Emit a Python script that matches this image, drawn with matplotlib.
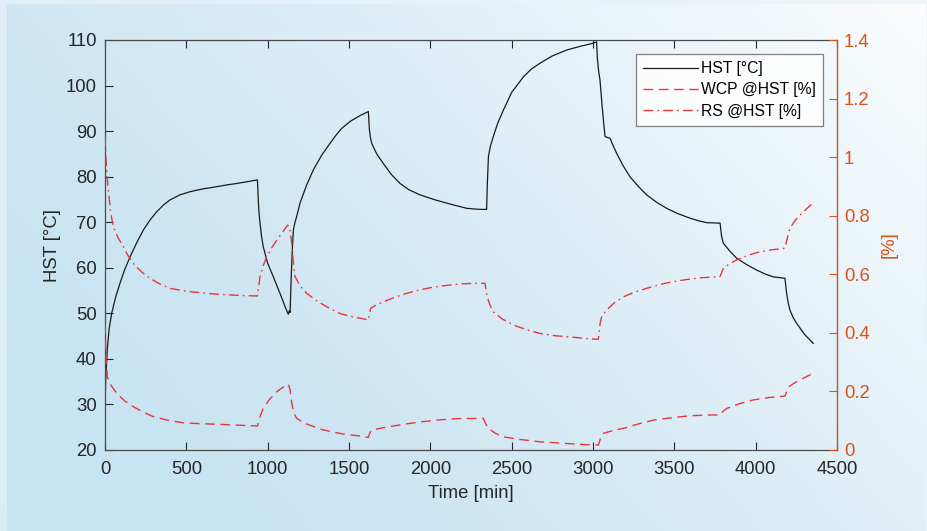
import numpy as np
import matplotlib
matplotlib.use("Agg")
import matplotlib.pyplot as plt

plt.rcParams['font.family'] = ['Liberation Sans', 'DejaVu Sans']

# ---- data ----
t_hst = [0, 5, 14, 25, 41, 65, 92, 120, 154, 195, 236, 277, 318, 360, 400, 460, 523, 600,
         687, 750, 810, 875, 937, 940, 943, 947, 953, 962, 973, 1000, 1035, 1080, 1110,
         1127, 1133, 1138, 1142, 1148, 1153, 1158, 1168, 1178, 1199, 1240, 1281, 1330,
         1383, 1420, 1455, 1510, 1568, 1619, 1625, 1632, 1640, 1670, 1711, 1760, 1814,
         1870, 1937, 2030, 2121, 2224, 2290, 2346, 2350, 2357, 2370, 2387, 2415, 2449,
         2500, 2572, 2620, 2674, 2750, 2838, 2920, 3002, 3022, 3027, 3035, 3043, 3055,
         3065, 3074, 3090, 3105, 3125, 3146, 3185, 3227, 3280, 3330, 3390, 3453, 3520,
         3596, 3650, 3699, 3781, 3790, 3801, 3840, 3883, 3945, 4006, 4060, 4109, 4180,
         4190, 4200, 4211, 4230, 4252, 4300, 4354]
hst = [30, 36, 42, 46.5, 50, 53.5, 56.6, 59.5, 62.4, 65.5, 68.3, 70.5, 72.3, 73.8, 74.9,
       76.0, 76.7, 77.3, 77.8, 78.2, 78.5, 78.9, 79.3, 77.0, 74.2, 72.0, 69.8, 67.0, 64.6,
       61.0, 58.0, 54.0, 51.2, 49.8, 50.6, 50.2, 55.0, 61.0, 65.0, 68.3, 70.0, 71.2, 74.2,
       78.2, 81.5, 84.6, 87.3, 89.1, 90.6, 92.2, 93.4, 94.3, 90.5, 88.5, 87.3, 85.0, 82.9,
       80.5, 78.5, 77.1, 76.0, 74.9, 74.0, 73.05, 72.85, 72.8, 78.0, 84.4, 86.8, 88.8,
       91.8, 94.6, 98.5, 101.9, 103.6, 104.9, 106.5, 107.8, 108.6, 109.3, 109.6, 106.0,
       103.0, 101.2, 96.0, 92.0, 88.8, 88.6, 88.4, 86.7, 85.1, 82.4, 80.0, 77.8, 76.0,
       74.4, 73.05, 71.9, 70.9, 70.3, 69.9, 69.8, 67.0, 65.4, 63.7, 62.1, 60.7, 59.5,
       58.6, 58.0, 57.7, 54.5, 52.3, 50.7, 49.1, 47.8, 45.4, 43.4]

t_wcp = [0, 6, 14, 40, 72, 120, 174, 235, 297, 390, 481, 580, 687, 810, 937, 950, 973,
         1010, 1056, 1090, 1127, 1138, 1148, 1160, 1178, 1225, 1281, 1340, 1404, 1480,
         1568, 1619, 1628, 1640, 1690, 1752, 1850, 1957, 2060, 2162, 2326, 2340, 2357,
         2400, 2449, 2550, 2674, 2840, 3002, 3033, 3048, 3064, 3120, 3187, 3280, 3371,
         3480, 3596, 3690, 3781, 3800, 3822, 3900, 3986, 4080, 4180, 4201, 4235, 4273,
         4310, 4354]
wcp = [0.43, 0.32, 0.250, 0.218, 0.194, 0.168, 0.148, 0.129, 0.114, 0.101, 0.093, 0.090,
       0.088, 0.085, 0.082, 0.110, 0.142, 0.172, 0.199, 0.213, 0.225, 0.205, 0.160, 0.128,
       0.108, 0.092, 0.080, 0.069, 0.061, 0.053, 0.048, 0.043, 0.058, 0.068, 0.074, 0.080,
       0.089, 0.097, 0.103, 0.107, 0.108, 0.090, 0.074, 0.057, 0.045, 0.036, 0.028, 0.022,
       0.017, 0.017, 0.042, 0.057, 0.066, 0.074, 0.089, 0.102, 0.110, 0.117, 0.119, 0.120,
       0.132, 0.142, 0.158, 0.171, 0.179, 0.184, 0.214, 0.228, 0.239, 0.250, 0.262]

t_rs = [0, 8, 20, 35, 51, 80, 113, 140, 174, 225, 277, 340, 400, 490, 584, 690, 789, 860,
        937, 953, 970, 994, 1025, 1056, 1090, 1123, 1135, 1148, 1158, 1168, 1200, 1240,
        1300, 1363, 1445, 1510, 1568, 1619, 1633, 1670, 1711, 1780, 1855, 1935, 2018,
        2100, 2182, 2260, 2336, 2343, 2350, 2365, 2387, 2440, 2510, 2590, 2674, 2770,
        2879, 2950, 3023, 3033, 3043, 3053, 3084, 3130, 3187, 3255, 3330, 3410, 3494,
        3575, 3658, 3720, 3781, 3801, 3840, 3883, 3945, 4006, 4090, 4180, 4195, 4211,
        4240, 4273, 4310, 4354]
rs = [1.07, 0.97, 0.888, 0.81, 0.762, 0.725, 0.694, 0.665, 0.637, 0.608, 0.586, 0.566,
      0.552, 0.543, 0.537, 0.532, 0.529, 0.527, 0.526, 0.592, 0.625, 0.660, 0.690, 0.717,
      0.743, 0.768, 0.760, 0.706, 0.640, 0.592, 0.560, 0.535, 0.510, 0.489, 0.466, 0.456,
      0.450, 0.444, 0.484, 0.496, 0.506, 0.521, 0.535, 0.547, 0.556, 0.562, 0.567, 0.569,
      0.569, 0.545, 0.523, 0.497, 0.472, 0.448, 0.427, 0.411, 0.398, 0.390, 0.385, 0.381,
      0.378, 0.378, 0.430, 0.455, 0.478, 0.502, 0.523, 0.539, 0.552, 0.565, 0.575, 0.582,
      0.588, 0.590, 0.592, 0.620, 0.636, 0.649, 0.663, 0.674, 0.683, 0.689, 0.725, 0.757,
      0.782, 0.802, 0.822, 0.844]

x_ticks = [0, 500, 1000, 1500, 2000, 2500, 3000, 3500, 4000, 4500]
yl_ticks = [20, 30, 40, 50, 60, 70, 80, 90, 100, 110]
yr_ticks = [0, 0.2, 0.4, 0.6, 0.8, 1, 1.2, 1.4]
yr_labels = ['0', '0.2', '0.4', '0.6', '0.8', '1', '1.2', '1.4']

W, H = 928, 531
fig = plt.figure(figsize=(W / 100, H / 100), dpi=100)

# ---- gradient background ----
bg = fig.add_axes([0, 0, 1, 1], zorder=-10)
yy, xx = np.mgrid[0:H, 0:W]
u = xx / W
v = 1 - yy / H
c0 = np.array([200, 227, 241]) / 255.0
c1 = np.array([250, 252, 253]) / 255.0
s = np.clip(0.78 * u + 0.42 * v - 0.18, 0, 1) ** 1.3
img = c0[None, None, :] * (1 - s[..., None]) + c1[None, None, :] * s[..., None]
s2 = np.clip(0.5 * u + 0.3 * v + 0.15, 0, 1)
c0b = np.array([214, 235, 246]) / 255.0
c1b = np.array([238, 246, 250]) / 255.0
frame = c0b[None, None, :] * (1 - s2[..., None]) + c1b[None, None, :] * s2[..., None]
mask = (xx < 7) | (yy < 4) | (xx > W - 3)
img[mask] = frame[mask]
bg.imshow(img, aspect='auto', interpolation='bilinear')
bg.axis('off')

# ---- main axes ----
ax = fig.add_axes([105 / W, (H - 450) / H, 732 / W, 410 / H])
ax.patch.set_alpha(0)
ax2 = ax.twinx()

red = '#e8363b'
orange = '#d95319'
dark = '#262626'

l1, = ax.plot(t_hst, hst, color='#1a1a1a', lw=0.9, label='HST [°C]')
l2, = ax2.plot(t_wcp, wcp, color=red, lw=1.0, dashes=(7, 4), label='WCP @HST [%]')
l3, = ax2.plot(t_rs, rs, color=red, lw=1.0, dashes=(7, 3, 1.2, 3), label='RS @HST [%]')

ax.set_xlim(0, 4500)
ax.set_ylim(20, 110)
ax2.set_ylim(0, 1.4)
ax.set_xticks(x_ticks)
ax.set_yticks(yl_ticks)
ax2.set_yticks(yr_ticks)
ax2.set_yticklabels(yr_labels)

fs = 13.3
ax.tick_params(axis='both', direction='in', length=6, width=0.8, colors=dark,
               labelsize=fs, top=True)
ax.tick_params(axis='x', pad=8)
ax.tick_params(axis='y', pad=6)
ax2.tick_params(axis='y', direction='in', length=6, width=0.8, colors=orange,
                labelsize=fs, pad=5)
for sp in ['left', 'bottom', 'top']:
    ax.spines[sp].set_color('#4a4a4a')
    ax.spines[sp].set_linewidth(0.9)
ax2.spines['right'].set_color(orange)
ax2.spines['right'].set_linewidth(0.9)
for sp in ['left', 'bottom', 'top']:
    ax2.spines[sp].set_visible(False)

ax.set_xlabel('Time [min]', fontsize=fs, color=dark, labelpad=5)
ax.set_ylabel('HST [°C]', fontsize=fs, color=dark, labelpad=3)
ax2.set_ylabel('[%]', fontsize=fs, color=orange, labelpad=8)

leg = ax2.legend(handles=[l1, l2, l3], loc='upper right', fontsize=11.3,
                 handlelength=3.5, handletextpad=0.2, labelspacing=0.4,
                 borderpad=0.45, borderaxespad=0.9, fancybox=False,
                 framealpha=0.85, facecolor='white', edgecolor='#6a6a6a')
leg.get_frame().set_linewidth(0.9)

fig.savefig('out.png', dpi=100)
